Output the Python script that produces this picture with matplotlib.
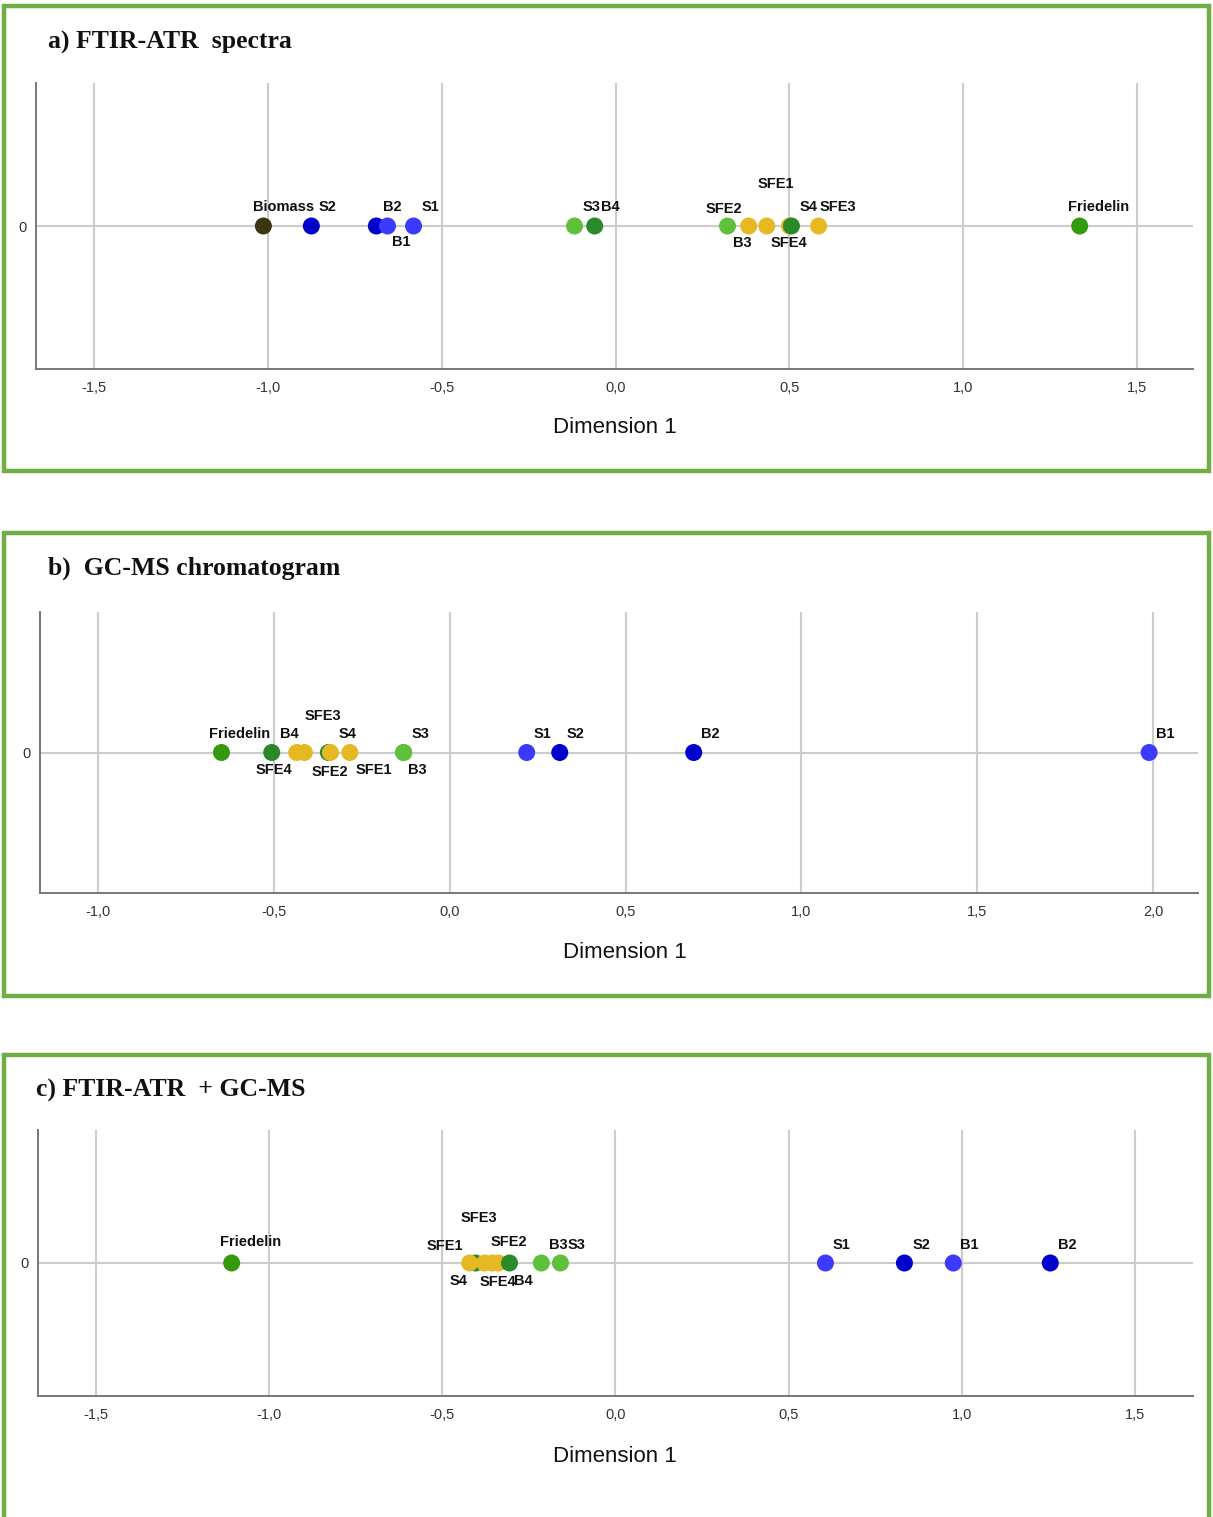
import matplotlib
matplotlib.use("Agg")
import matplotlib.pyplot as plt
from matplotlib.patches import Rectangle

W, H = 1213, 1517
DPI = 100

# ---------------- data ----------------
a_names = ["Biomass", "S2", "B2", "B1", "S1", "S3", "B4", "B3", "SFE2", "SFE1", "SFE4", "S4", "SFE3", "Friedelin"]
a_dim1 = [-1.013, -0.875, -0.688, -0.656, -0.581, -0.118, -0.060, 0.322, 0.383, 0.435, 0.500, 0.506, 0.584, 1.335]
a_group = ["biomass", "g2", "g2", "g1", "g1", "g3", "g4", "g3", "sfe", "sfe", "sfe", "g4", "sfe", "fried"]

b_names = ["Friedelin", "B4", "SFE4", "SFE3", "S4", "SFE2", "SFE1", "B3", "S3", "S1", "S2", "B2", "B1"]
b_dim1 = [-0.649, -0.506, -0.435, -0.413, -0.345, -0.339, -0.284, -0.131, -0.131, 0.219, 0.313, 0.694, 1.989]
b_group = ["fried", "g4", "sfe", "sfe", "g4", "sfe", "sfe", "g3", "g3", "g1", "g2", "g2", "g1"]

c_names = ["Friedelin", "S4", "SFE1", "SFE3", "SFE4", "SFE2", "B4", "B3", "S3", "S1", "S2", "B1", "B2"]
c_dim1 = [-1.108, -0.404, -0.421, -0.378, -0.355, -0.338, -0.306, -0.214, -0.159, 0.606, 0.834, 0.975, 1.255]
c_group = ["fried", "g4", "sfe", "sfe", "sfe", "sfe", "g4", "g3", "g3", "g1", "g2", "g1", "g2"]

a_ticks = [-1.5, -1.0, -0.5, 0.0, 0.5, 1.0, 1.5]
b_ticks = [-1.0, -0.5, 0.0, 0.5, 1.0, 1.5, 2.0]
c_ticks = [-1.5, -1.0, -0.5, 0.0, 0.5, 1.0, 1.5]

titles = ["a) FTIR-ATR  spectra", "b)  GC-MS chromatogram", "c) FTIR-ATR  + GC-MS"]
xlabel = "Dimension 1"

# ---------------- styles ----------------
colors = {
    "biomass": "#3b3510",
    "g1": "#3b3bff",
    "g2": "#0000cc",
    "g3": "#5fc03c",
    "g4": "#2a8a2a",
    "sfe": "#e6b822",
    "fried": "#339a0f",
}

# label offsets in pixels (dx, dy) relative to the point
a_off = {"Biomass": (20, 19), "S2": (16, 19), "B2": (16, 19), "B1": (14, -16), "S1": (17, 19),
         "S3": (17, 19), "B4": (16, 19), "B3": (15, -17), "SFE2": (-25, 17), "SFE1": (9, 42),
         "SFE4": (0, -17), "S4": (17, 19), "SFE3": (19, 19), "Friedelin": (19, 19)}
b_off = {"Friedelin": (18, 18), "B4": (18, 18), "SFE4": (-23, -18), "SFE3": (18, 36), "S4": (19, 18),
         "SFE2": (-1, -19), "SFE1": (24, -17), "S3": (17, 18), "B3": (14, -17), "S1": (16, 18),
         "S2": (16, 18), "B2": (17, 18), "B1": (16, 18)}
c_off = {"Friedelin": (19, 21), "SFE1": (-25, 17), "S4": (-17, -18), "SFE3": (-6, 45), "SFE4": (5, -19),
         "SFE2": (10, 21), "B4": (14, -18), "B3": (17, 18), "S3": (16, 18), "S1": (16, 18),
         "S2": (17, 18), "B1": (16, 18), "B2": (17, 18)}

fig = plt.figure(figsize=(W / DPI, H / DPI), dpi=DPI)
fig.patch.set_facecolor("white")


def rect(x0, y0, x1, y1):
    return [x0 / W, 1 - y1 / H, (x1 - x0) / W, (y1 - y0) / H]


# panel frames
border = "#70ad47"
for (y0, y1) in [(6, 471), (533, 996), (1055, 1530)]:
    fig.patches.append(Rectangle((4 / W, 1 - y1 / H), (1209 - 4) / W, (y1 - y0) / H,
                                 transform=fig.transFigure, fill=False, edgecolor=border,
                                 linewidth=3.2, zorder=10))

panels = [
    dict(names=a_names, vals=a_dim1, grp=a_group, ticks=a_ticks, off=a_off,
         box=(36, 83, 1193, 369), xlim=(-1.667, 1.661), title_xy=(48, 42), xl_y=427, xl_x=615),
    dict(names=b_names, vals=b_dim1, grp=b_group, ticks=b_ticks, off=b_off,
         box=(40, 612, 1198, 893), xlim=(-1.165, 2.128), title_xy=(48, 568), xl_y=953, xl_x=625),
    dict(names=c_names, vals=c_dim1, grp=c_group, ticks=c_ticks, off=c_off,
         box=(38, 1130, 1193, 1396), xlim=(-1.667, 1.667), title_xy=(36, 1090), xl_y=1457, xl_x=615),
]

for i, p in enumerate(panels):
    ax = fig.add_axes(rect(*p["box"]))
    ax.set_xlim(*p["xlim"])
    ax.set_ylim(-1, 1)
    for t in p["ticks"]:
        ax.axvline(t, color="#cccccc", lw=1.5, zorder=0)
    ax.axhline(0, color="#cccccc", lw=1.5, zorder=0)
    for s in ["top", "right"]:
        ax.spines[s].set_visible(False)
    for s in ["left", "bottom"]:
        ax.spines[s].set_color("#777777")
        ax.spines[s].set_linewidth(1.4)
    ax.set_xticks(p["ticks"])
    ax.set_xticklabels([f"{t:.1f}".replace(".", ",") for t in p["ticks"]],
                       fontsize=10.5, color="#333333", family="Liberation Sans")
    ax.set_yticks([0])
    ax.set_yticklabels(["0"], fontsize=10.5, color="#333333", family="Liberation Sans")
    ax.tick_params(axis="x", length=0, pad=8.5)
    ax.tick_params(axis="y", length=0, pad=7)
    for k, (n, v, g) in enumerate(zip(p["names"], p["vals"], p["grp"])):
        ax.scatter([v], [0], s=150, color=colors[g], edgecolors="none", zorder=3 + k * 0.01)
        dx, dy = p["off"][n]
        ax.annotate(n, (v, 0), xytext=(dx, dy), textcoords="offset pixels",
                    ha="center", va="center", fontsize=10.5, fontweight="bold",
                    family="Liberation Sans", color="#111111", zorder=5)
    tx, ty = p["title_xy"]
    fig.text(tx / W, 1 - ty / H, titles[i], fontsize=18.5, fontweight="bold",
             family="Liberation Serif", ha="left", va="center", color="#111111")
    fig.text(p["xl_x"] / W, 1 - p["xl_y"] / H, xlabel, fontsize=16,
             family="Liberation Sans", ha="center", va="center", color="#111111")

fig.savefig("out.png", dpi=DPI, facecolor="white")
